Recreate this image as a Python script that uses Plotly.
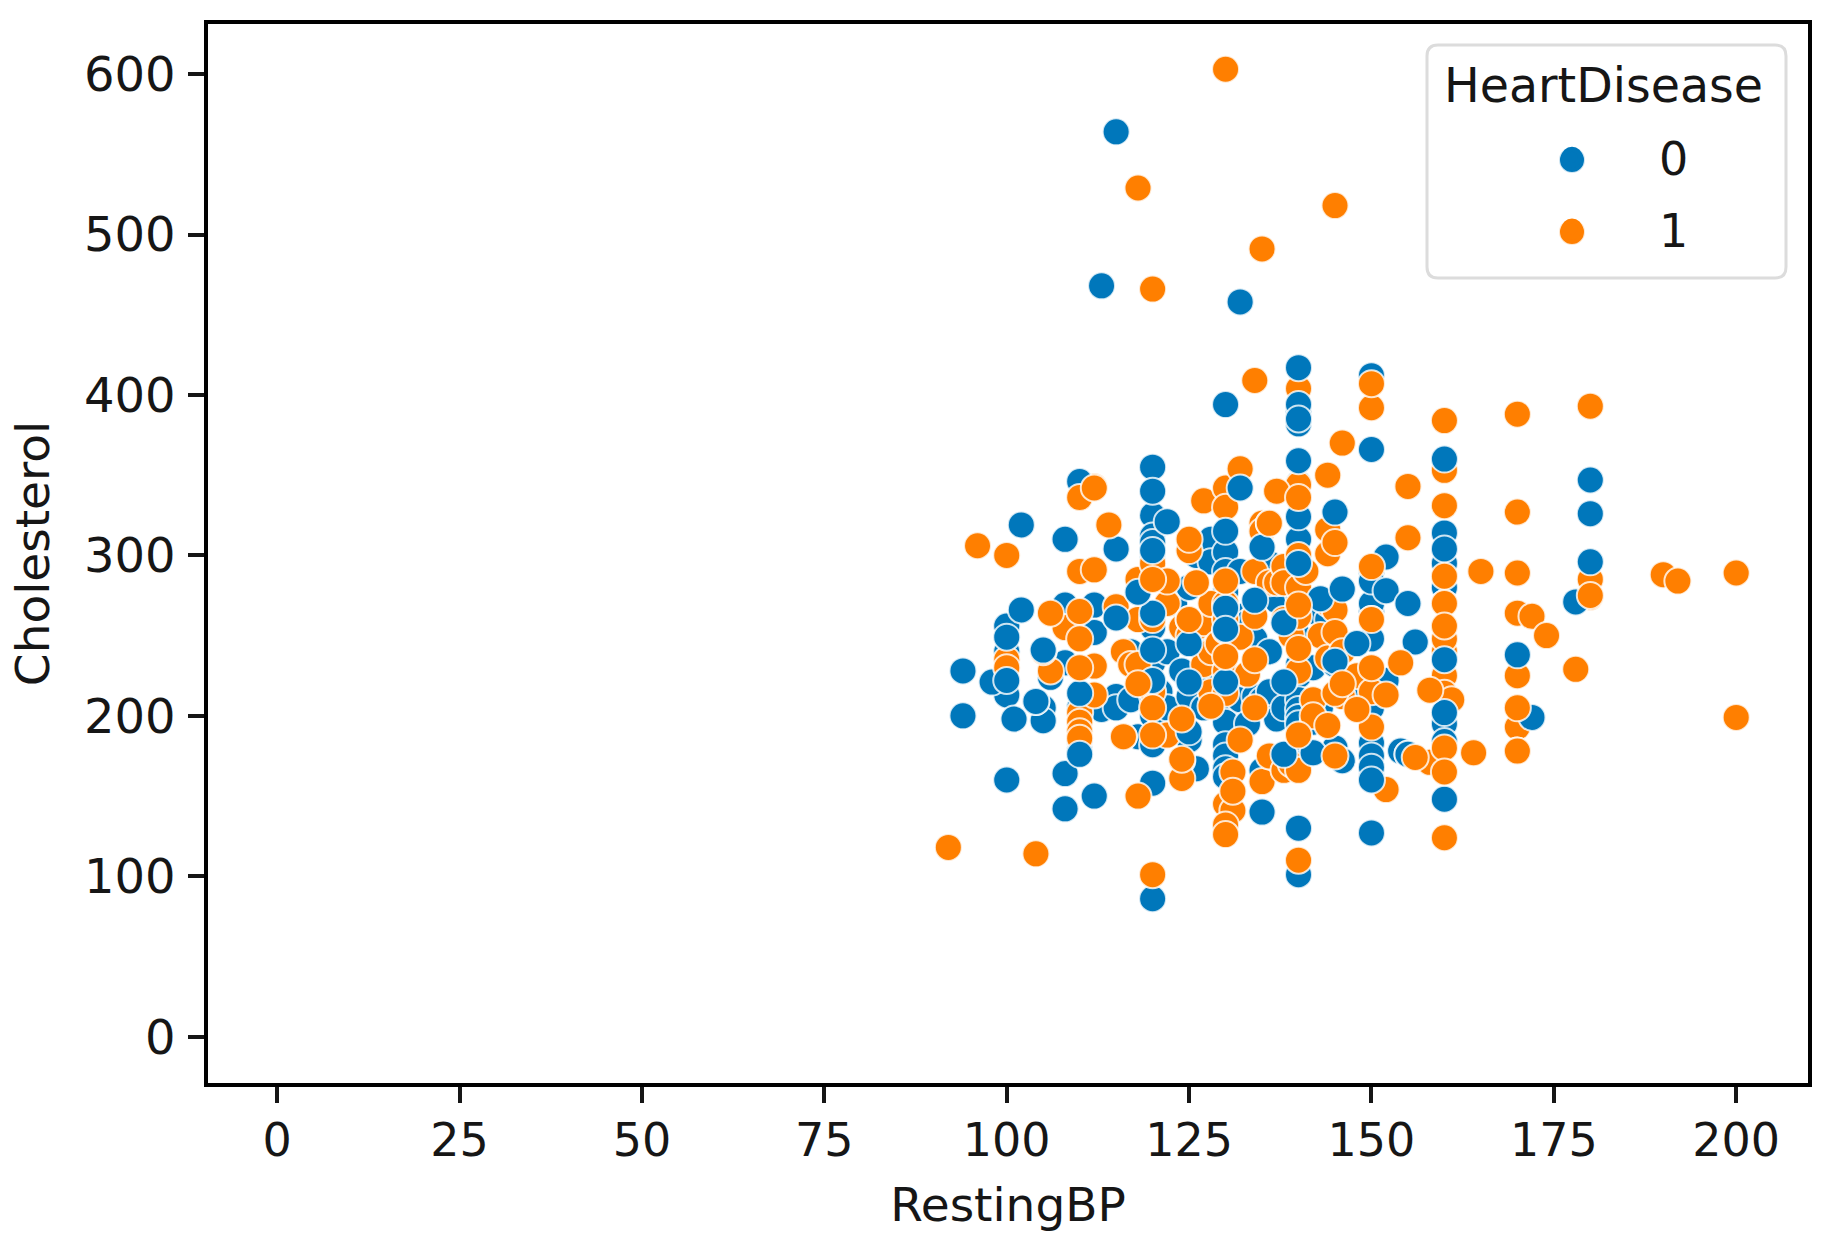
import plotly.graph_objects as go

# Colours and categories
heart_disease_labels = ["0", "1"]
blue = "#0077BB"
orange = "#FF7F00"
x_ticks = [0, 25, 50, 75, 100, 125, 150, 175, 200]
y_ticks = [0, 100, 200, 300, 400, 500, 600]

# Points are split in layers so that overlaps follow the reference stacking
blue_under_bp = [
    110,110,110,110,110,112,112,113,108,108,
    108,105,105,104,106,100,100,100,98,101,
    115,115,117,117,118,118,120,120,120,120,
    120,120,120,120,120,120,122,122,121,121,
    122,123,124,124,125,125,125,126,126,127,
    127,128,128,128,128,130,130,130,130,130,
    130,130,130,130,130,130,130,132,132,132,
    132,133,133,134,134,135,135,136,136,136,
    137,137,138,138,140,140,140,140,140,140,
    140,140,140,140,140,140,140,140,140,140,
    141,142,142,142,143,144,145,145,146,148,
    150,150,150,150,150,150,150,150,150,152,
    154,155,160,160,160,160,160,160,160,172]
blue_under_chol = [
    205,198,190,184,178,269,252,204,269,164,
    233,205,197,209,224,256,213,240,221,198,
    212,205,210,240,277,187,325,312,308,302,
    298,255,233,212,200,182,321,240,215,192,
    205,270,228,190,185,212,280,167,300,205,
    240,310,296,262,224,302,290,277,258,245,
    212,205,196,182,175,167,162,290,262,219,
    210,258,195,248,212,210,166,215,240,295,
    198,272,290,205,382,390,345,324,310,286,
    275,250,232,225,210,204,199,195,178,170,
    272,230,265,196,205,260,232,180,172,210,
    412,290,265,270,225,205,183,175,165,222,
    178,176,314,295,280,226,214,195,184,199]

orange_mid_bp = [
    110,110,110,110,110,112,112,112,112,108,
    106,106,105,100,100,115,116,116,117,118,
    118,118,120,120,120,120,122,122,124,124,
    125,125,125,126,127,127,127,128,128,128,
    129,130,130,130,130,130,130,130,130,130,
    131,131,132,132,133,134,134,135,135,135,
    136,136,136,137,137,138,138,138,138,139,
    139,140,140,140,140,140,140,140,141,142,
    142,143,144,144,144,144,145,145,146,146,
    148,150,150,150,150,152,158,158,160,160,
    160,160,160,160,160,160,161,170,170,170,
    170,172,180,180]
orange_mid_chol = [
    290,202,196,190,186,343,291,231,213,255,
    264,228,240,235,230,268,187,240,232,285,
    232,260,295,260,215,205,270,188,255,172,
    303,260,250,255,334,258,232,270,240,215,
    245,342,330,270,260,253,228,214,145,126,
    141,165,354,249,226,290,262,320,315,159,
    320,283,175,340,283,293,283,260,166,250,
    170,404,344,300,280,262,228,166,290,210,
    200,250,316,301,270,236,266,252,240,212,
    225,392,260,215,193,154,216,171,353,270,
    256,240,248,225,214,180,210,205,193,225,
    178,262,285,274]

blue_top_bp = [
    110,110,112,115,115,115,113,132,132,130,
    130,130,130,135,134,135,120,120,120,120,
    120,120,120,118,125,125,100,100,100,94,
    94,102,102,108,108,105,104,110,140,140,
    140,140,140,140,138,138,138,143,142,145,
    146,145,150,150,150,150,150,152,152,155,
    156,155,148,150,160,160,160,160,160,180,
    180,180,178,172,170,130,120,125,140,140]
blue_top_chol = [
    346,176,150,564,261,304,468,458,342,394,
    315,267,254,305,272,140,355,340,303,264,
    241,222,158,277,245,221,249,222,160,228,
    200,266,319,310,142,241,209,214,417,394,
    385,359,295,130,258,221,176,273,177,327,
    279,234,366,284,248,168,160,299,278,270,
    246,176,245,127,360,304,235,202,148,347,
    326,296,271,199,238,221,86,190,101,324]

orange_top_bp = [
    130,118,145,135,120,150,160,170,180,134,
    146,144,155,110,112,110,114,96,100,92,
    104,110,110,110,112,122,120,126,125,125,
    118,120,124,124,118,120,128,130,134,134,
    132,136,137,140,140,140,144,145,145,145,
    146,148,150,150,152,155,158,156,164,165,
    160,160,160,160,160,170,170,170,172,174,
    178,190,192,200,200,180,160,170,130,130,
    140,131,130,124,150,116,140,154,170]
orange_top_chol = [
    603,529,518,491,466,407,384,388,393,409,
    370,350,343,336,342,290,319,306,300,118,
    114,265,248,230,291,284,285,283,310,260,
    220,101,198,161,150,188,206,284,235,205,
    185,320,340,336,269,242,194,308,214,175,
    220,204,293,230,213,311,216,174,177,290,
    331,287,270,165,124,327,289,264,262,250,
    229,288,284,289,199,275,256,178,132,126,
    110,153,237,173,260,187,188,233,205]

# Pixel layout of the picture (page coordinates)
W, H = 1825, 1244
L, R, T, B = 208, 1808, 24, 1083
font = "DejaVu Sans"
ink = "#161616"

def px(x):
    return (x - L) / (R - L)
def py(y):
    return (B - y) / (B - T)

fig = go.Figure()
edge = dict(color="rgba(255,255,255,0.8)", width=2)
def layer(xs, ys, color, group):
    fig.add_trace(go.Scatter(x=xs, y=ys, mode="markers", showlegend=False, legendgroup=group,
                             marker=dict(color=color, size=27, line=edge), hoverinfo="skip"))

layer(blue_under_bp, blue_under_chol, blue, "0")
layer(orange_mid_bp, orange_mid_chol, orange, "1")
layer(blue_top_bp, blue_top_chol, blue, "0")
layer(orange_top_bp, orange_top_chol, orange, "1")

for i, (name, color) in enumerate(zip(heart_disease_labels, [blue, orange])):
    fig.add_trace(go.Scatter(x=[None], y=[None], mode="markers", name=name, legendgroup=name,
                             legendgrouptitle=dict(text="&nbsp;", font=dict(size=11)) if i == 0 else None,
                             marker=dict(color=color, size=16, line=dict(color=color, width=5))))

# Rounded legend frame
fx0, fx1, fy0, fy1, rr = 1427, 1786, 45, 278, 11
frame = (f"M {px(fx0+rr)} {py(fy0)} L {px(fx1-rr)} {py(fy0)} Q {px(fx1)} {py(fy0)} {px(fx1)} {py(fy0+rr)} "
         f"L {px(fx1)} {py(fy1-rr)} Q {px(fx1)} {py(fy1)} {px(fx1-rr)} {py(fy1)} "
         f"L {px(fx0+rr)} {py(fy1)} Q {px(fx0)} {py(fy1)} {px(fx0)} {py(fy1-rr)} "
         f"L {px(fx0)} {py(fy0+rr)} Q {px(fx0)} {py(fy0)} {px(fx0+rr)} {py(fy0)} Z")
shapes = [dict(type="path", path=frame, xref="paper", yref="paper", layer="above",
               line=dict(color="#dcdcdc", width=3), fillcolor="white")]
# Legend keys are capped in size by the library, so a wider disc sits behind each one
for color, cy in zip([blue, orange], [160, 232]):
    shapes.append(dict(type="circle", xref="paper", yref="paper", layer="above",
                       xsizemode="pixel", ysizemode="pixel",
                       xanchor=px(1572), yanchor=py(cy), x0=-13, x1=13, y0=-13, y1=13,
                       fillcolor=color, line=dict(color="rgba(255,255,255,0.8)", width=2)))

axis = dict(showgrid=False, zeroline=False, showline=True, mirror=True, linecolor="black", linewidth=3.5,
            ticks="outside", ticklen=16, tickwidth=3.5, tickcolor=ink)

fig.update_layout(
    width=W, height=H, autosize=False,
    margin=dict(l=L, r=W - R, t=T, b=H - B, pad=0),
    paper_bgcolor="white", plot_bgcolor="white",
    font=dict(family=font, color=ink),
    xaxis=dict(axis, range=[-9.49, 209.84], tickvals=x_ticks, ticklabelstandoff=-2,
               tickfont=dict(family=font, size=46, color=ink),
               title=dict(text="RestingBP", font=dict(family=font, size=47, color=ink), standoff=23)),
    yaxis=dict(axis, range=[-28.86, 631.2], tickvals=y_ticks, ticklabelstandoff=3,
               tickfont=dict(family=font, size=48, color=ink),
               title=dict(text="Cholesterol", font=dict(family=font, size=47, color=ink), standoff=21)),
    shapes=shapes,
    legend=dict(x=px(fx0 + 15), y=py(fy0 - 5), xanchor="left", yanchor="top", bgcolor="rgba(0,0,0,0)", borderwidth=0,
                title=dict(text="HeartDisease", side="top",
                           font=dict(family=font, size=47.5, color=ink)),
                font=dict(family=font, size=46, color=ink),
                itemwidth=164, indentation=43, tracegroupgap=9, traceorder="grouped"),
)

fig.write_html("out.html", config={"displayModeBar": False},
               post_script="document.body.style.margin='0';")
